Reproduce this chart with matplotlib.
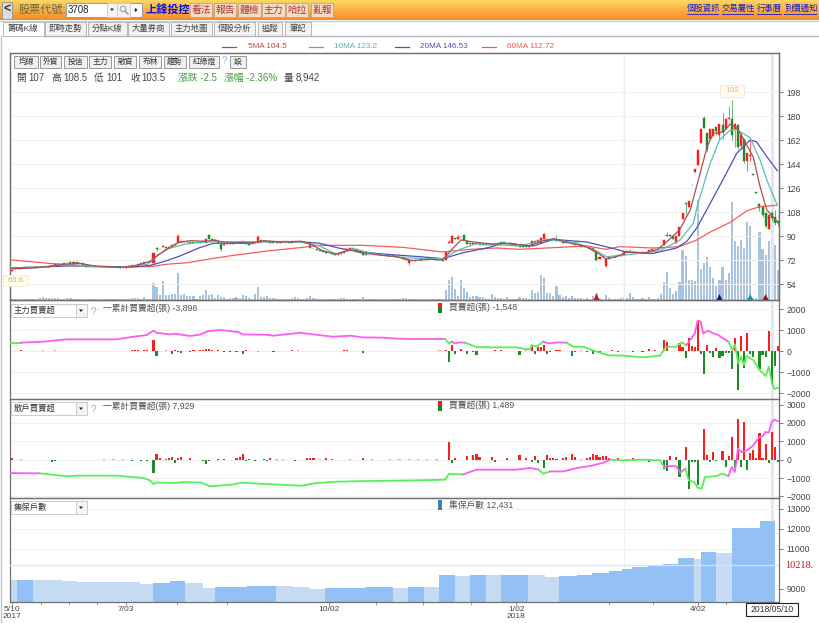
import numpy as np
import matplotlib
matplotlib.use('Agg')
import matplotlib.pyplot as plt
from matplotlib.colors import LinearSegmentedColormap
from matplotlib.patches import Rectangle, Polygon

plt.rcParams['font.family'] = ['Liberation Sans', 'Noto Sans CJK TC', 'DejaVu Sans']

# candles, one value per trading day
opens = [64,65,66,65.5,66.5,66,66.5,66,66.5,66.5, 67,66.5,67,67.5,68,69,68.5,69,69.5,70.5,
         70,70.5,70,69.5,68,67.5,67,67.5,67,66.5, 67,67.5,67,66.5,67,66.5,66,66,66.5,67.5,
         68,68.5,69,70,70.5,71,70,81,80,81.5, 82,81,82,83.5,84.5,86,85.5,86,85.5,85.5,
         85.5,85,85.5,85,91,88,87,86,84,83, 84.5,84.5,84,84.5,85.5,85,85.5,84,84,85,
         85,87,86.5,86,85.5,85.5,85,85,85.5,86, 85.5,85,85.5,86,86,85.5,85,84,80.5,80,
         79.5,79,78,77.5,77,76.5,76,76.5,77,79, 80,81,80,78,77,76.5,76,75.5,76,75.5,
         76,75.5,75.5,75,75.5,75,74.5,74,73,70, 72,71.5,72,72,72.5,72.5,73,73,72.5,72,
         72,72,85,85,88.5,88,89,91,86,84, 84.5,84.5,84,84,83.5,84,83.5,84,84,85.5,
         85.5,85,84.5,84,83,82.5,82.5,82.5,82.5,83, 86,85,85,88,87,86,86,87,86.5,85.5,
         85.5,85,84.5,84,83.5,83,82.5,82,81.5,81, 78.5,73,74,67.5,73,74.5,74,75.5,75,76,
         78,78.5,78.5,78,77.5,78,77.5,78,79.5,80.5, 80,81,83,90,91,90,85,90,102.5,115,
         112,128,138,143,160,178.5,167,163,165,172, 166,173,170.5,177.5,177.5,170,173,157.5,163,146,
         150,136.5,123,114,112,107,95,107,104,101]
closes = [64.5,65.5,65.5,66,66,66.5,66,66.5,66,67, 66.5,67,67.5,68,69,68.5,69,69.5,70,70,
          70.5,70,69.5,68,67,67,67.5,67,66.5,67, 67,67,66.5,66.5,66.5,66,66,67,67.5,68,
          68.5,69,70,70.5,70.5,70.5,77.5,80,80.5,82.5, 81,82,83,84,90,85.5,86,85.5,85,85,
          85,85.5,86,87.5,88,87,86,85,80,84, 84,84,84.5,85,85,86,84,83,85,85.5,
          89,86.5,86,85.5,85,85,85.5,85.5,86,85.5, 85,86,86,85.5,85.5,85,84.5,81,80,79.5,
          79,78,77.5,77,76.5,76,76.5,77.5,79,80, 81,80,78,77,76,76,75.5,76,75.5,76,
          75.5,75.5,75,75,75,74,74,73,72,72, 72,72,72,72.5,72.5,73,73,72.5,72,72,
          71.5,78,85.5,90,88,89,89,87,84,84.5, 84,84,83.5,83.5,84,83.5,84,84,85,85,
          85,84.5,84,83,82.5,82,82,82,82,86, 85.5,87,88.7,91.2,86,86.5,86.5,86.5,86,85,
          85,84.5,84,83,83,82,82,81.5,80.5,79, 72,74,75,72.5,74,74,75,75,76,78,
          78.5,78.5,79,77.5,77.5,77.5,77.5,79.5,80,80, 80.5,82,87,91,90,88,90,97,107.5,114,
          116,128.5,140.5,154.5,170,171,155.5,170.5,170.5,169, 174,168,178,178.5,166,174,157,166,146,152,
          151,136,122.5,111,106,97.5,106,103.5,100,99.5]
upper_wicks = {47:82, 49:83.5, 54:91.5, 64:91.5, 68:84.5, 80:90.5, 110:82, 142:87, 143:90.5, 145:91,
               147:91.5, 172:89, 173:92, 177:91, 201:80, 213:93, 219:115, 225:180, 231:182, 233:187.5,
               234:192, 235:175, 236:174, 237:167, 240:162.5, 243:115, 244:113, 245:108, 246:106.5,
               247:108.5, 248:109.5, 249:102}
lower_wicks = {0:63.6, 47:79, 68:79, 129:68, 190:71, 193:67, 219:106.5, 226:153, 229:166, 230:163, 231:163,
               234:162, 235:157, 236:155, 237:155, 238:145, 239:139, 240:146, 243:109, 244:104, 245:96,
               246:95, 247:101, 248:98, 249:97.5}
volumes = [150,120,170,140,130,160,150,180,200,260, 510,340,340,300,420,420,170,250,300,420,
           170,200,170,150,170,130,200,170,150,130, 170,130,130,150,170,130,150,170,200,340,
           340,340,170,500,250,200,2900,2200,850,3200, 850,850,1000,1000,4550,850,1000,680,680,680,
           170,680,850,1700,850,1000,340,850,500,500, 170,340,340,500,340,850,680,340,170,1000,
           2200,500,500,680,340,340,170,200,170,170, 250,340,500,340,250,200,340,680,340,170,
           170,170,170,170,170,170,170,340,340,170, 170,170,170,170,500,170,170,170,170,170,
           170,170,170,170,170,170,170,340,340,250, 170,120,120,120,120,120,120,120,120,120,
           170,1700,3400,3900,1850,680,3400,2000,1350,500, 680,680,500,500,170,170,1000,500,340,340,
           170,500,170,170,120,500,340,340,170,1700, 1200,1350,4200,3700,1200,1200,680,2350,850,500,
           680,340,680,340,340,340,170,340,170,680, 1200,340,170,850,340,170,120,170,340,500,
           340,1200,500,170,170,340,170,500,170,170, 340,1000,3050,4700,2000,1000,1500,3050,8450,7450,
           3400,3400,3200,16900,5200,6250,7250,5600,3700,2350, 3400,5600,3400,4550,16500,10000,9100,10100,8800,13200,
           12500,300,400,11500,8600,7600,10000,8942,9300,5050]

# moving averages, read at the bends
ma5_x = [0,6,12,18,22,27,35,40,45,47,50,54,58,63,66,70,78,82,88,94,97,101,105,110,114,120,125,130,136,140,143,146,
         150,156,162,168,172,176,180,186,190,193,196,200,206,210,213.5,217,220.5,223.7,226,228,231.3,233.5,235.6,
         237.8,241,243.2,245.4,248.8]
ma5_y = [65.5,66,67,69,69.5,67.5,66.5,67.5,71,75,79.5,85,86.5,86,87,84.5,84.5,86.5,85.5,86,84,79,76.5,79.5,77.5,
         75.5,74.5,71.5,72.5,72,80,87,85.5,84,84.5,82.5,86,88,85.5,82.5,78,73,74,78,77.5,80,87,94.5,109.5,137,157,
         167,168,174,171,163,149,127,109.5,100.75]
ma10_x = [0,7,18,24,34,44,47,50,56,60,66.5,77,93.6,100,105.5,111,117.4,127,134.8,140,145.6,151,165,173.8,183.5,189,
          193.3,197.7,204,210.7,217.2,221.5,223,227,230,233.5,235.6,240,243.2,245.4,248.8]
ma10_y = [65.5,66.25,68.75,67.5,66.25,68.75,74.5,80,83.75,85,85.75,85.75,85.75,82.5,76.25,80.5,76.75,73.75,73,73,80,
          84.25,82.5,87.5,85,80,74.5,75.25,77,79,87,99.5,114.5,144.5,162,169.5,170,163.5,147,132,113]
ma20_x = [0,18,23,31,39.5,45,50,54.6,61,65.5,72,83,93.6,100,106.6,114,121.8,132.6,140,146.7,154.3,159.7,169.4,176,
          186.8,192.2,199.8,204,208.5,216,219.4,222.6,227,231.3,235.6,240,242,245.4,248.8]
ma20_y = [66,67.5,67.5,67,66.75,68,71.25,75,81.25,84.5,85,85.75,85.75,84.5,80.75,78,76.25,74.5,73,77.5,81,84.5,82.5,
          87.5,85.5,82.5,78,77,77,81,86,96,114.5,133,152,162,160.75,149.5,139]
ma60_x = [0,7,12,22,28.6,45,50,57,65.5,72,83,93.6,100,114,127,140,149,157.5,165,176,187,190,193,197.6,208.5,217,
          222.6,227,233.5,239,243,248.6]
ma60_y = [72,70.5,69.5,68,67,67,68.75,70,73.25,75.5,78.75,81.25,83,83,81.5,78,80,81,80,81.25,82.5,81.25,80,82,81,82,
          87,93,100.25,109,112,113]
signal_x = [190, 230, 240, 245]
signal_colors = ['#cc1111', '#111188', '#119999', '#991122']

# 主力買賣超
main_net = {3:40,39:40,40:60,41:60,43:50,44:60,46:520,47:-240,52:-120,53:70,54:-60,55:-100,58:-50,59:50,61:50,62:60,
            63:80,64:80,65:60,67:50,69:-40,71:-40,73:-50,75:-130,76:60,85:-30,91:40,108:50,109:50,114:-100,
            141:60,142:-520,143:280,144:-130,146:110,148:-150,150:-60,151:-200,157:60,159:50,165:-180,169:300,
            170:-150,171:180,172:180,173:280,174:-150,175:-60,177:60,178:60,182:-220,183:-50,187:-60,189:-150,
            191:-60,195:50,197:-30,202:-40,205:-40,207:100,209:30,212:530,213:430,217:400,218:200,219:-320,220:600,
            221:230,222:200,223:1450,224:-150,225:-1080,226:300,227:-100,228:-300,229:150,230:-320,231:-250,
            232:-80,233:-80,234:-850,235:600,236:-1880,237:730,238:-800,239:850,240:-150,241:-280,243:-850,
            244:-200,245:-300,246:950,247:-1548,248:-700,249:230}
main_small = {1:-15,5:20,7:20,10:25,12:-20,14:25,16:20,18:20,20:15,25:20,30:15,35:20,48:-20,50:25,78:-20,80:-25,
              82:-20,88:20,93:25,95:-20,98:20,101:-20,104:20,116:20,119:15,122:-20,125:15,128:-20,131:-15,134:20,
              137:20,139:25,153:20,155:-15,161:20,163:20,167:25,180:20,185:25,193:20,199:-20,203:-15,210:20}
main_cum_x = [-0.6,3,10,17.8,34,39.4,43.8,46,47,51.4,53,57.9,61.1,63.8,67.6,73.6,75,82.8,85,93.6,104.4,109.9,114,
              120.7,124,129.4,140.8,142,143,144,145.6,147.3,151,156.5,164,166.8,168.4,169,170.6,172.7,174.4,177.6,
              180.3,182.5,185.7,190,193.9,198.7,205.2,210.7,212.3,213.4,216,217.7,219.3,222,222.9,223.9,224.7,226.4,
              228,229.6,232.9,234.2,235,236.1,237,238,238.8,241,243,245,246,247,247.9,249]
main_cum_y = [400,400,445,555,555,680,760,970,870,790,825,715,780,950,1000,905,790,775,730,870,680,730,650,635,600,570,
              570,365,445,365,410,395,190,175,175,95,80,285,205,445,365,410,395,205,205,-30,-205,-220,-300,-220,130,205,
              205,410,285,840,1450,1400,840,970,840,760,445,50,320,-590,-270,-670,-240,-430,-900,-1190,-750,-1460,
              -1810,-1750]
main_switch = [(3,'g'),(140.8,'m'),(143,'g'),(147.3,'m'),(172.7,'g'),(180.3,'m'),(219.3,'g'),(232.9,'m'),(249,'g')]

# 散戶買賣超
retail_net = {0:100,13:-100,14:-80,39:-60,42:-50,44:-60,46:-720,47:300,48:100,50:50,51:100,52:160,53:-200,54:100,55:160,
              58:100,62:-50,63:-260,64:-80,67:60,69:60,73:100,74:130,75:300,76:-60,77:50,79:-60,82:50,83:-80,84:80,
              92:-80,96:100,97:100,98:80,102:80,104:50,108:-20,114:100,
              142:950,143:-170,144:100,148:220,150:230,151:300,152:130,156:130,157:-100,161:100,165:260,167:100,169:-120,
              170:200,171:-200,173:-450,174:260,175:100,176:80,177:30,179:100,180:160,182:320,183:150,187:100,188:130,
              189:320,190:250,191:150,192:200,193:220,194:100,197:100,202:100,205:50,207:-120,212:-500,213:-620,
              214:200,216:150,217:-950,219:700,220:-1600,221:-100,222:-100,223:-1400,225:1650,226:250,227:-120,228:400,
              229:-80,231:450,232:-420,233:220,234:1250,235:-450,236:2200,237:-420,238:2050,239:-550,240:380,241:520,
              242:100,243:1450,244:100,245:830,246:-200,247:1489,248:700,249:-120}
retail_small = {3:20,5:-15,16:-20,18:-15,20:-20,22:-15,24:-20,26:-15,28:-20,30:15,33:15,36:15,86:20,88:25,90:-20,94:-20,
                100:20,106:-20,110:20,117:20,120:-15,123:15,126:20,129:15,132:20,135:15,138:20,185:20,200:15,210:30}
retail_cum_x = [-0.6,9.1,18.3,21,34,42.7,44.9,46,47,52.4,55.7,61.6,64.4,72,74.7,82.8,94.2,99,105.5,113.1,129.4,140.8,
                142,146.7,151,157.6,164,168.4,171.1,172.7,174.9,179.2,183.6,187.9,192.2,194.4,198.7,205.2,210.7,212,
                213.4,216,217.2,218.9,220,221.8,222.9,224.2,225.3,229,230.9,232.9,234,235,236,237,239,241,243,244,
                245,246,247,247.9,249]
retail_cum_y = [-730,-745,-910,-870,-870,-1000,-1130,-1330,-1240,-1270,-1220,-1250,-1455,-1345,-1250,-1330,-1420,-1270,
                -1200,-1170,-1130,-1090,-780,-800,-545,-545,-545,-455,-530,-760,-640,-640,-455,-345,-165,0,-35,0,-35,
                -400,-345,-360,-710,-490,-1130,-1220,-1530,-1580,-945,-890,-760,-890,-400,-670,600,420,510,780,1240,
                1270,1510,1470,2050,2180,2110]
retail_switch = [(9.1,'m'),(146.7,'g'),(171.1,'m'),(174.9,'g'),(194.4,'m'),(212,'g'),(218.9,'m'),(232.9,'g'),(249,'m')]

# 集保戶數, one block per level with its band shade
holder_edges = [-0.6,1.7,6.8,16.3,21.1,30.9,41.6,45.8,51.4,56.2,61.1,62.1,66,76.4,81.6,85.8,91.4,96.9,101.8,114.8,
                123.9,128.7,133.9,138.8,144,148.9,154.1,159,164.5,167.7,173.3,177.8,183.7,188.6,194.1,198.3,201.6,
                206.8,211.6,216.5,221.7,224,228.9,234,243.2,248]
holder_vals = [9450,9450,9440,9420,9370,9330,9230,9280,9400,9320,9290,9070,9100,9130,9170,9130,9100,9020,9050,9100,
               9050,9100,9100,9680,9650,9720,9700,9680,9720,9700,9620,9650,9700,9780,9880,9980,10100,10150,10270,
               10550,10500,10830,10800,12030,12400]
holder_dark = [0,1,0,0,0,0,0,1,1,0,0,0,1,1,1,0,0,0,1,1,0,1,0,1,0,1,0,1,1,0,0,1,1,1,1,1,1,1,1,1,0,1,0,1,1]

price_ticks = [54, 72, 90, 108, 126, 144, 162, 180, 198]
main_ticks = [-2000, -1000, 0, 1000, 2000]
retail_ticks = [-2000, -1000, 0, 1000, 2000, 3000]
holder_ticks = [9000, 11000, 12000, 13000]
date_ticks = [0, 37, 103, 164, 223]
date_labels = ['5/10\n2017', '7/03', '10/02', '1/02\n2018', '4/02']
month_ticks = [9.4, 18.5, 27.6, 53.6, 69.9, 118.3, 133.6, 149.2, 194, 208.4, 232.1]

W, H = 820, 623
RED, GREEN = '#fb1e1e', '#1f8a2a'
TXT = '#444444'
fig = plt.figure(figsize=(W / 100, H / 100), dpi=100, facecolor='white')


def panel(top, bottom, ylim):
    ax = fig.add_axes([10.3 / W, 1 - bottom / H, 769 / W, (bottom - top) / H])
    ax.set_xlim(-0.55, 249.45)
    ax.set_ylim(*ylim)
    ax.set_facecolor('none')
    ax.yaxis.tick_right()
    ax.tick_params(axis='y', length=3, width=0.6, color='#666666', labelsize=6.2, labelcolor=TXT, pad=2)
    ax.set_xticks([])
    ax.grid(axis='y', color='#f1f1f1', lw=0.8)
    ax.set_axisbelow(True)
    for s in ax.spines.values():
        s.set_color('#707070')
        s.set_linewidth(0.9)
    ax.axvline(199.0, color='#eef0f6', lw=1, zorder=0)
    ax.axvline(247, color='#dde7f8', lw=2.2, zorder=0)
    return ax


def colored_line(ax, xs, ys, switch):
    xs, ys = np.array(xs), np.array(ys)
    start = xs[0]
    for end, c in switch:
        m = (xs >= start) & (xs <= end)
        ax.plot(xs[m], ys[m], color={'g': '#55f055', 'm': '#fb5cf0'}[c], lw=1.3, zorder=3,
                solid_joinstyle='round')
        start = end


def net_bars(ax, net, small):
    for d, alpha in ((small, 0.45), (net, 1)):
        idx = list(d.keys())
        vals = list(d.values())
        ax.bar(idx, vals, width=0.7, color=[RED if v > 0 else GREEN for v in vals], alpha=alpha, zorder=2, lw=0)


# price panel
ax_vol = panel(53, 300, (0, 41700))
ax_vol.grid(False)
ax_vol.set_yticks([])
ax_vol.bar(range(len(volumes)), volumes, width=0.7, color='#a7c3df', lw=0, zorder=1)
ax_vol.scatter(signal_x, [420] * 4, marker='^', s=26, c=signal_colors, lw=0, zorder=4)

ax = panel(53, 300, (42, 227.25))
ax.set_yticks(price_ticks)
for i, (o, c) in enumerate(zip(opens, closes)):
    col = RED if c >= o else GREEN
    hi = upper_wicks.get(i, max(o, c))
    lo = lower_wicks.get(i, min(o, c))
    ax.vlines(i, lo, hi, color=col, lw=0.7, alpha=0.65, zorder=2)
    ax.bar(i, abs(c - o), bottom=min(o, c), width=0.66, color=col, edgecolor=col, lw=0.3, zorder=2.5)
ax.plot(ma60_x, ma60_y, color='#fa5a5a', lw=0.9, zorder=3)
ax.plot(ma20_x, ma20_y, color='#4f4fb5', lw=0.9, zorder=3)
ax.plot(ma10_x, ma10_y, color='#5cbdb5', lw=0.9, zorder=3)
ax.plot(ma5_x, ma5_y, color='#a85050', lw=0.9, zorder=3)

# 主力
ax2 = panel(300, 399, (-2285, 2430))
ax2.set_yticks(main_ticks)
net_bars(ax2, main_net, main_small)
ax2.axhline(0, color='#eeeeee', lw=0.8, zorder=1)
colored_line(ax2, main_cum_x, main_cum_y, main_switch)

# 散戶
ax3 = panel(399, 497.5, (-2060, 3306))
ax3.set_yticks(retail_ticks)
net_bars(ax3, retail_net, retail_small)
ax3.axhline(0, color='#eeeeee', lw=0.8, zorder=1)
colored_line(ax3, retail_cum_x, retail_cum_y, retail_switch)

# 集保戶數
ax4 = panel(497.5, 601.6, (8370, 13575))
ax4.set_yticks(holder_ticks)
ax4.axhline(10218, color='#d6e4f8', lw=0.9, zorder=4)
for k, v in enumerate(holder_vals):
    ax4.fill_between([holder_edges[k], holder_edges[k + 1]], 8370, v,
                     color='#93c0f5' if holder_dark[k] else '#c5dbf3', lw=0, zorder=2)
ax4.set_xticks(date_ticks)
ax4.set_xticklabels(date_labels, fontsize=6, color=TXT, linespacing=0.95)
ax4.tick_params(axis='x', length=2, width=0.6, color='#777777', pad=1)
ax4.set_xticks(month_ticks, minor=True)
ax4.tick_params(axis='x', which='minor', length=2, width=0.6, color='#999999')

# page chrome, in pixels
ui = fig.add_axes([0, 0, 1, 1], zorder=10, facecolor='none')
ui.set_axis_off()
cmap = LinearSegmentedColormap.from_list('hdr', ['#fdd562', '#f58c26'])
ui.imshow(np.linspace(0, 1, 20).reshape(-1, 1), cmap=cmap, extent=(0, W, 20, 0), aspect='auto', zorder=0)
ui.set_xlim(0, W)
ui.set_ylim(H, 0)


def box(x0, y0, x1, y1, fc='white', ec='#aaaaaa', lw=0.7, z=1):
    ui.add_patch(Rectangle((x0, y0), x1 - x0, y1 - y0, fc=fc, ec=ec, lw=lw, zorder=z))


def label(x, y, s, size=7, color=TXT, ha='left', **kw):
    ui.text(x, y, s, fontsize=size, color=color, ha=ha, va='center', zorder=6, **kw)


ui.plot([0, W], [20.5, 20.5], color='#cccccc', lw=1)
ui.plot([1.5, 1.5], [36, H], color='#c4c4c4', lw=1)
ui.plot([44, W], [36, 36], color='#b4b4c4', lw=1)

# top bar
box(2, 2, 12, 19, fc='#dddddd', ec='#999999')
label(7, 10, '<', size=9, color='#333333', ha='center', fontweight='bold')
label(19, 9.5, '股票代號:', size=8, color='#666644')
box(66, 3, 142, 17, ec='#999999')
label(68, 10, '3708', size=7, color='#222222')
box(107, 3, 117, 17, fc='#f4f4f4', ec='#cccccc')
ui.add_patch(Polygon([(110, 8.5), (114, 8.5), (112, 11)], fc='#222222', zorder=3))
box(117, 3, 130, 17, fc='#f4f4f4', ec='#cccccc')
ui.scatter([123], [9], s=16, facecolors='none', edgecolors='#8aa6c8', lw=0.8, zorder=3)
ui.plot([125, 128], [11, 14], color='#b09060', lw=1, zorder=3)
label(136, 10, '♦', size=5, color='#222222', ha='center')
label(146, 9.5, '上鋒投控', size=8, color='#1010dd', fontweight='bold')
for x0, x1, s in [(190, 212, '看法'), (214, 236, '報告'), (238, 261, '體檢'), (262, 285, '主力'), (286, 308, '哈拉'), (311, 333, '亂報')]:
    box(x0, 3, x1, 17, fc='#f3dcc6', ec='#cfa57a')
    label((x0 + x1) / 2, 10, s, size=7, color='#b03434', ha='center')
for x0, x1, s in [(687, 718, '個股資訊'), (722, 753, '交易屬性'), (757, 781, '行事曆'), (784, 816, '到價通知')]:
    label(x0, 9, s, size=6, color='#1a1ac8')
    ui.plot([x0, x1], [13.5, 13.5], color='#1a1ac8', lw=0.6, zorder=6)

# tabs
for x0, x1, s, on in [(3, 44, '籌碼K線', 1), (45, 86, '即時走勢', 0), (88, 127, '分點K線', 0), (128, 169, '大量券商', 0),
                      (171, 212, '主力地圖', 0), (214, 255, '個股分析', 0), (258, 282, '追蹤', 0), (285, 311, '筆記', 0)]:
    box(x0, 22, x1, 36, fc='white' if on else '#f2f2f2', ec='#b8b8b8')
    label((x0 + x1) / 2, 29, s, size=6, color='#444444', ha='center')

# MA legend
for x0, tx, s, c in [(222, 248, '5MA 104.5', '#b04a4a'), (309, 334, '10MA 123.2', '#4fb3ad'),
                     (395, 420, '20MA 146.53', '#5252b0'), (482, 507, '60MA 112.72', '#f95555')]:
    ui.plot([x0, x0 + 14], [47, 47], color=c, lw=0.9, zorder=6)
    label(tx, 47, s, size=5.9, color=c)

# chart toolbar
for x0, x1, s in [(14, 38, '均線'), (40, 61, '外資'), (64, 87, '投信'), (89, 111, '主力'), (114, 136, '融資'),
                  (139, 161, '布林'), (164, 186, '趨勢'), (189, 219, '紅綠燈'), (230, 246, '設')]:
    box(x0, 56, x1, 68, fc='#f0f0f0', ec='#999999')
    label((x0 + x1) / 2, 62, s, size=5.6, color='#333333', ha='center')
label(224, 61, '?', size=7, color='#8ab8e8', ha='center')

for x, s, c in [(16, '開', TXT), (28, '107', TXT), (51, '高', TXT), (63, '108.5', TXT), (94, '低', TXT), (106, '101', TXT),
                (130, '收', TXT), (141, '103.5', TXT), (178, '漲跌 -2.5', '#3f9a3f'), (224, '漲幅 -2.36%', '#3f9a3f'),
                (284, '量', TXT), (296, '8,942', TXT)]:
    label(x, 78, s, size=7, color=c)

# high and low flags
box(720, 85, 744, 97, fc='#fffdea', ec='#eeeedd')
label(732, 91, '192', size=6, color='#f5a8a0', ha='center')
box(3, 275, 28, 286, fc='#fffdea', ec='#eeeedd')
label(15.5, 280.5, '63.6', size=6, color='#bdbd90', ha='center')

# panel selectors and captions
for y0, name, cum, net, tones in [(304, '主力買賣超', '一累計買賣超(張) -3,896', '買賣超(張) -1,548', 2),
                                  (402, '散戶買賣超', '一累計買賣超(張) 7,929', '買賣超(張) 1,489', 2),
                                  (501, '集保戶數', None, '集保戶數 12,431', 1)]:
    box(11.5, y0, 87, y0 + 13, ec='#cccccc')
    box(76, y0, 87, y0 + 13, fc='#f4f4f4', ec='#cccccc')
    ui.add_patch(Polygon([(79, y0 + 5.5), (83, y0 + 5.5), (81, y0 + 8)], fc='#222222', zorder=3))
    label(14, y0 + 6.5, name, size=6, color='#333333')
    if cum:
        label(93, y0 + 8, '?', size=7, color='#8ab8e8', ha='center')
        label(103, y0 + 4, cum, size=6.3, color='#555555')
    if tones == 2:
        box(438, y0 - 1, 442, y0 + 4, fc='#f02020', ec='none', lw=0)
        box(438, y0 + 4, 442, y0 + 9, fc='#108a20', ec='none', lw=0)
    else:
        box(438, y0 - 1, 442, y0 + 9, fc='#3f7fb5', ec='none', lw=0)
    label(449, y0 + 4, net, size=6.3, color='#555555')

# cursor date and holder level
box(746, 603, 798, 616, ec='#222222', lw=0.8)
label(772, 609.5, '2018/05/10', size=6.2, color='#333333', ha='center')
label(785, 566, '10218.', size=7.5, color='#b01c1c', family='Liberation Serif')

fig.savefig('out.png', dpi=100)
